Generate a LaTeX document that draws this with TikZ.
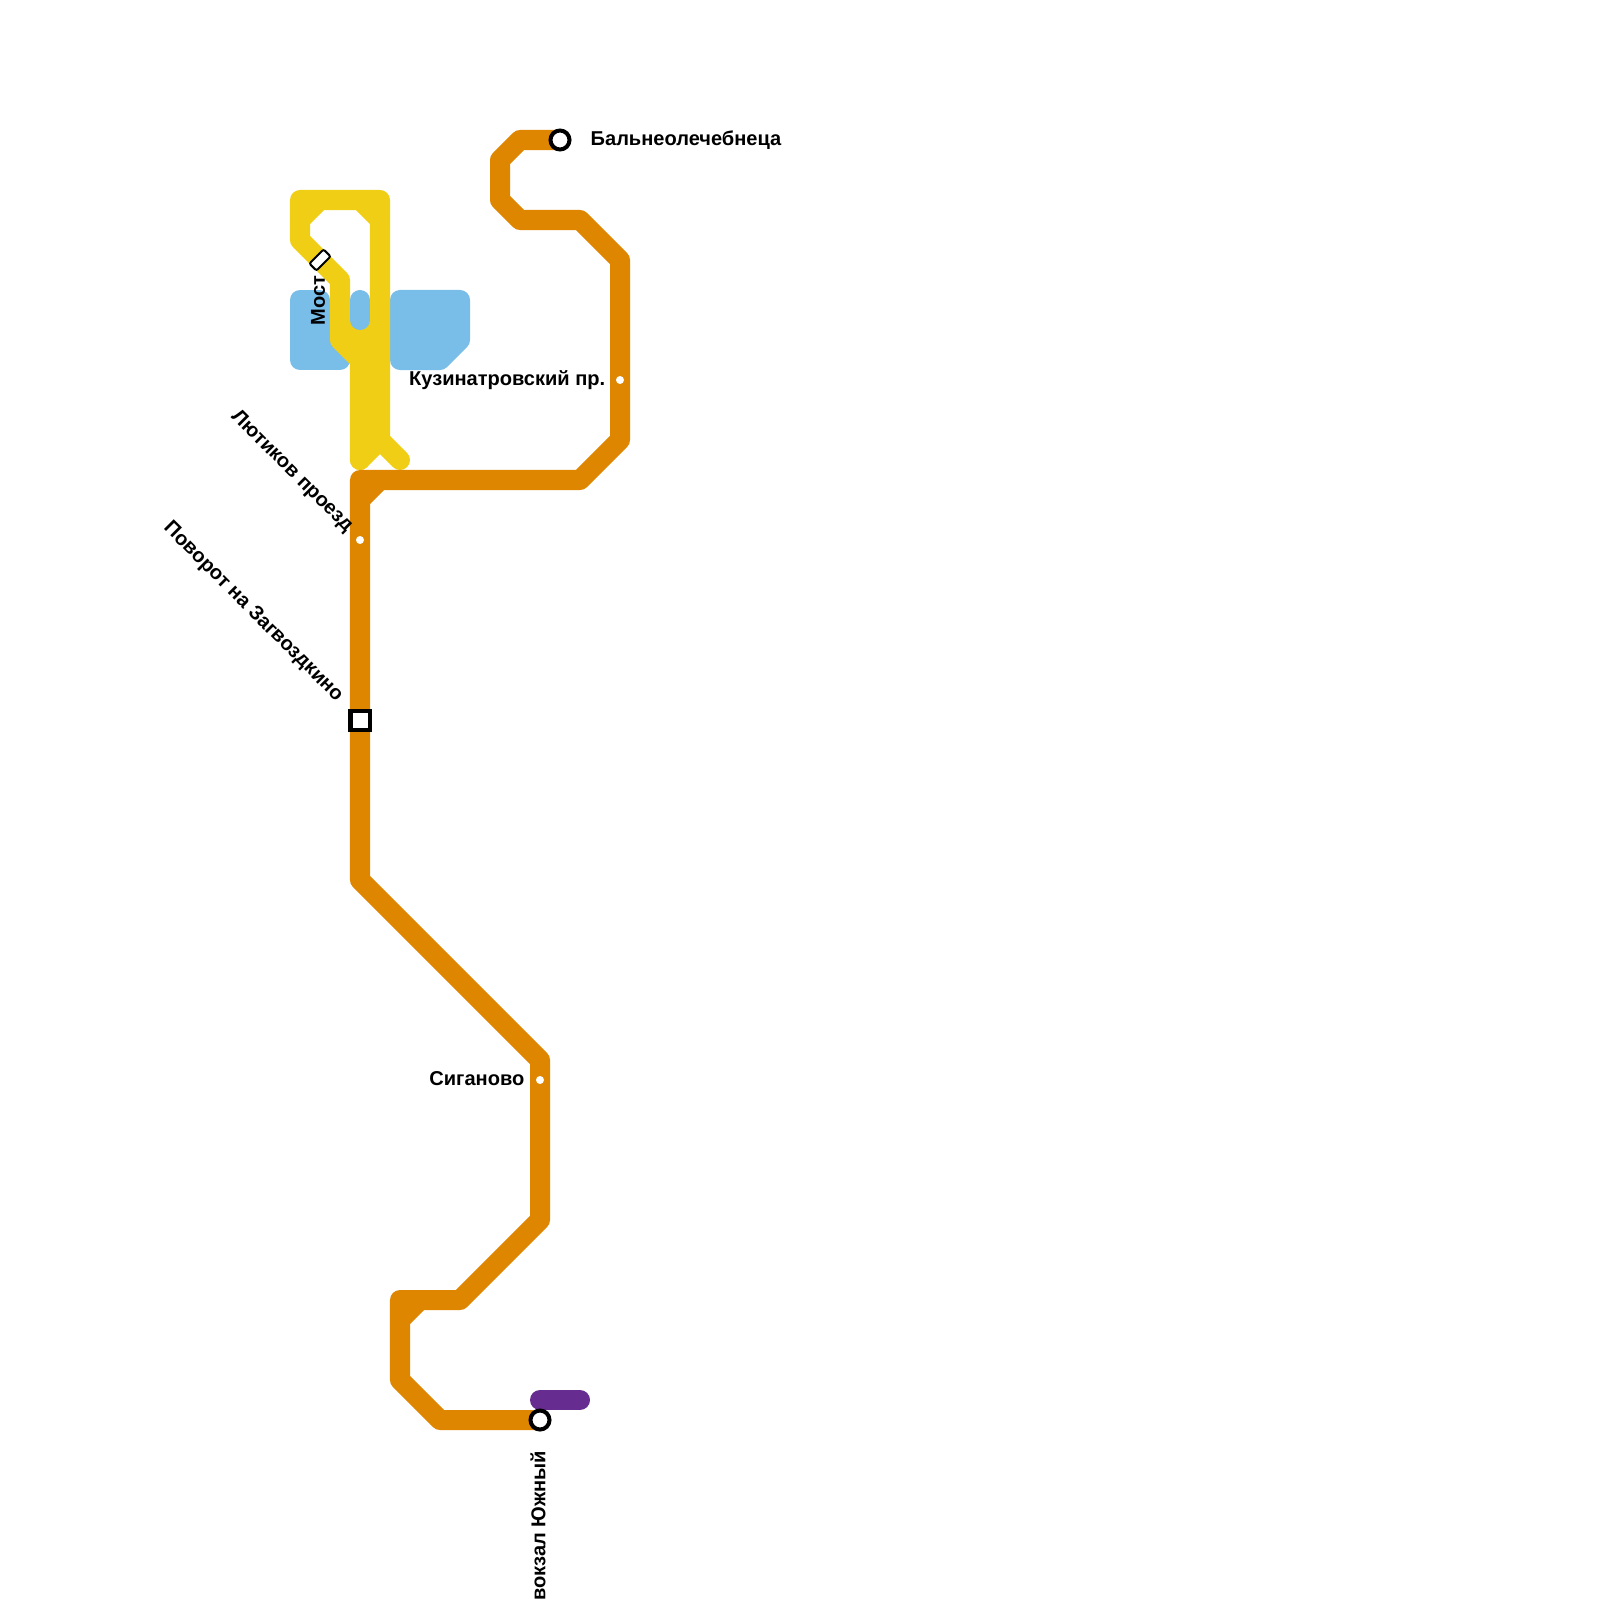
\documentclass[tikz,border=0pt]{standalone}
\usepackage{fontspec}
\setmainfont{Liberation Sans}
\definecolor{lineorange}{HTML}{DF8600}
\definecolor{lineyellow}{HTML}{F0CE15}
\definecolor{lineblue}{HTML}{79BDE9}
\definecolor{linepurple}{HTML}{662C90}
\begin{document}
\begin{tikzpicture}[
  x=0.01cm, y=-0.01cm,
  metro/.style={line width=0.2cm, line cap=round, line join=round},
  water/.style={draw=lineblue, fill=lineblue, line width=0.2cm, line join=round},
  terminal/.style={circle, draw=black, fill=white, line width=0.04cm, minimum size=0.19cm, inner sep=0pt},
  transfer/.style={rectangle, draw=black, fill=white, line width=0.04cm, minimum size=0.19cm, inner sep=0pt},
  halt/.style={circle, fill=white, minimum size=0.08cm, inner sep=0pt},
  bridge/.style={rectangle, rounded corners=0.02cm, draw=black, fill=white, line width=0.02cm, minimum width=0.2cm, minimum height=0.1cm, inner sep=0pt, rotate=45},
  stationname/.style={font=\fontsize{5.7pt}{6.5pt}\selectfont\bfseries, inner sep=0pt}
]
\useasboundingbox (0,0) rectangle (1600,1600);
\clip (0,0) rectangle (1600,1600);
% water
\draw[water] (300,300) -- (320,300) -- (320,340) -- (340,340) -- (340,360) -- (300,360) -- cycle;
\draw[water] (400,300) -- (460,300) -- (460,340) -- (440,360) -- (400,360) -- cycle;
% yellow line
\coordinate (most) at (320,260);
\fill[lineyellow] (340,320) -- (380,320) -- (380,440) -- (360,440) -- (360,360) -- (340,340) -- cycle;
\draw[metro, lineyellow] (360,460) -- (360,360) -- (340,340) -- (340,280) -- (most) -- (300,240) -- (300,200) -- (380,200) -- (380,440) -- (400,460);
\draw[metro, lineyellow] (300,220) -- (320,200);
\draw[metro, lineyellow] (360,200) -- (380,220);
\draw[metro, lineyellow] (380,440) -- (360,460);
\draw[metro, lineblue] (360,300) -- (360,320);
% orange line
\coordinate (balneo) at (560,140);
\coordinate (kuzin) at (620,380);
\coordinate (lyutik) at (360,540);
\coordinate (povorot) at (360,720);
\coordinate (sigan) at (540,1080);
\coordinate (vokzal) at (540,1420);
\draw[metro, lineorange] (balneo) -- (520,140) -- (500,160) -- (500,200) -- (520,220) -- (580,220) -- (620,260) -- (kuzin) -- (620,440) -- (580,480) -- (360,480) -- (lyutik) -- (povorot) -- (360,880) -- (540,1060) -- (sigan) -- (540,1220) -- (460,1300) -- (400,1300) -- (400,1380) -- (440,1420) -- (vokzal);
\draw[metro, lineorange] (360,500) -- (380,480);
\draw[metro, lineorange] (400,1320) -- (420,1300);
% purple line
\coordinate (purpleend) at (580,1400);
\draw[metro, linepurple] (vokzal |- purpleend) -- (purpleend);
% stations
\node[terminal] (balneost) at (balneo) {};
\node[terminal] (vokzalst) at (vokzal) {};
\node[transfer] (povorotst) at (povorot) {};
\node[halt] (kuzinst) at (kuzin) {};
\node[halt] (lyutikst) at (lyutik) {};
\node[halt] (siganst) at (sigan) {};
\node[bridge] (mostst) at (most) {};
% labels
\node[stationname, anchor=west] (balneolab) at (590,140) {Бальнеолечебнеца};
\node[stationname, anchor=east] (kuzinlab) at (606,380) {Кузинатровский пр.};
\node[stationname, anchor=east] (siganlab) at (525,1079) {Сиганово};
\node[stationname, anchor=east, rotate=-45] (lyutiklab) at (350,530) {Лютиков проезд};
\node[stationname, anchor=east, rotate=-45] (povorotlab) at (340,699) {Поворот на Загвоздкино};
\node[stationname, anchor=east, rotate=90] (mostlab) at (318,275) {Мост};
\node[stationname, anchor=east, rotate=90] (vokzallab) at (538,1450) {вокзал Южный};
\end{tikzpicture}
\end{document}
